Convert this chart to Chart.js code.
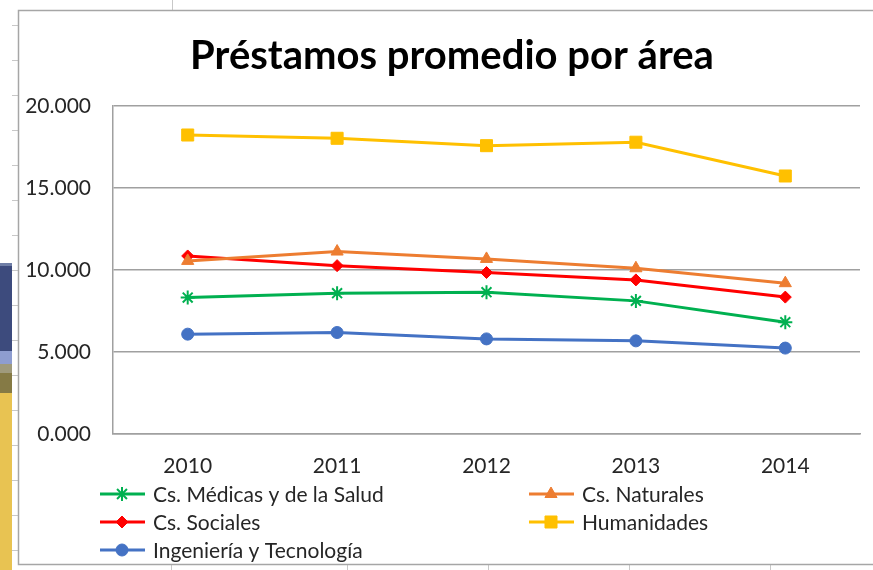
<!DOCTYPE html>
<html>
<head>
<meta charset="utf-8">
<script src="https://cdn.jsdelivr.net/npm/chart.js@4.4.1/dist/chart.umd.min.js"></script>
<style>
  html, body { margin: 0; padding: 0; background: #fff; }
  #wrap { width: 873px; height: 570px; }
</style>
</head>
<body>
<div id="wrap"><canvas id="chart" width="873" height="570"></canvas></div>
<script>
// values
const years = ['2010', '2011', '2012', '2013', '2014'];
const medicas = [8.31, 8.58, 8.64, 8.11, 6.81];
const naturales = [10.55, 11.12, 10.67, 10.10, 9.19];
const sociales = [10.85, 10.26, 9.84, 9.39, 8.34];
const humanidades = [18.23, 18.03, 17.58, 17.79, 15.73];
const ingenieria = [6.08, 6.18, 5.79, 5.67, 5.23];
const yMin = 0, yMax = 20, yStep = 5;
const titulo = 'Préstamos promedio por área';

const FONT = 'Lato, "Open Sans", sans-serif';

function serie(label, data, color, style, radius) {
  return {
    label: label,
    data: data,
    borderColor: color,
    backgroundColor: color,
    pointBackgroundColor: style === 'star' ? 'transparent' : color,
    pointBorderColor: color,
    pointBorderWidth: style === 'star' ? 2 : 1,
    pointStyle: style,
    pointRadius: radius,
    borderWidth: 3,
    tension: 0,
    fill: false
  };
}

// excel-ish surroundings: frame, cell ticks, slide strip on the left
const sheetBg = {
  id: 'sheetBg',
  beforeDraw(chart) {
    const c = chart.ctx;
    c.save();
    c.fillStyle = '#fff';
    c.fillRect(0, 0, chart.width, chart.height);
    const strip = [
      [263, 266, '#6f7ea6'], [266, 351, '#3d4b7d'], [351, 364, '#8e9dd0'],
      [364, 373, '#9f9a7c'], [373, 393, '#857a45'], [393, 570, '#e8c352']
    ];
    strip.forEach(s => { c.fillStyle = s[2]; c.fillRect(0, s[0], 12, s[1] - s[0]); });
    c.strokeStyle = '#c8c8c8';
    c.lineWidth = 1;
    for (let y = 25; y < 570; y += 35) {
      c.beginPath(); c.moveTo(12, y + 0.5); c.lineTo(18, y + 0.5); c.stroke();
    }
    [172].forEach(x => { c.beginPath(); c.moveTo(x + 0.5, 0); c.lineTo(x + 0.5, 10); c.stroke(); });
    [171, 347, 488, 629, 770].forEach(x => { c.beginPath(); c.moveTo(x + 0.5, 565); c.lineTo(x + 0.5, 570); c.stroke(); });
    c.strokeStyle = '#a6a6a6';
    c.lineWidth = 1.5;
    c.beginPath();
    c.moveTo(873, 10.5); c.lineTo(18.5, 10.5); c.lineTo(18.5, 564.5); c.lineTo(873, 564.5);
    c.stroke();
    c.restore();
  }
};

// title and two-column legend laid out like the excel one
const excelTexts = {
  id: 'excelTexts',
  afterDraw(chart) {
    const c = chart.ctx;
    c.save();
    c.fillStyle = '#000';
    c.font = 'bold 40px ' + FONT;
    c.textAlign = 'center';
    c.textBaseline = 'middle';
    c.fillText(titulo, 452, 56);

    const cols = [100, 529];
    const rows = [494, 522, 550];
    c.font = '21px ' + FONT;
    c.textAlign = 'left';
    chart.data.datasets.forEach((ds, i) => {
      const x = cols[i % 2], y = rows[Math.floor(i / 2)];
      c.strokeStyle = ds.borderColor;
      c.lineWidth = 3;
      c.beginPath(); c.moveTo(x, y); c.lineTo(x + 45, y); c.stroke();
      c.lineWidth = ds.pointBorderWidth;
      c.fillStyle = ds.pointBackgroundColor;
      Chart.helpers.drawPoint(c, { pointStyle: ds.pointStyle, radius: ds.pointRadius, borderWidth: ds.pointBorderWidth, rotation: 0 }, x + 22, y);
      c.fillStyle = '#262626';
      c.fillText(ds.label, x + 53, y + 1);
    });
    c.restore();
  }
};

new Chart(document.getElementById('chart'), {
  type: 'line',
  data: {
    labels: years,
    datasets: [
      serie('Cs. Médicas y de la Salud', medicas, '#00b050', 'star', 7),
      serie('Cs. Naturales', naturales, '#ed7d31', 'triangle', 7),
      serie('Cs. Sociales', sociales, '#ff0000', 'rectRot', 6),
      serie('Humanidades', humanidades, '#ffc000', 'rect', 8.5),
      serie('Ingeniería y Tecnología', ingenieria, '#4472c4', 'circle', 6)
    ]
  },
  options: {
    responsive: false,
    animation: false,
    layout: { padding: { left: 18, right: 13, top: 106, bottom: 71 } },
    plugins: {
      legend: { display: false },
      tooltip: { enabled: false },
      title: { display: false }
    },
    scales: {
      x: {
        offset: true,
        grid: { display: false, drawTicks: false },
        border: { display: true, color: '#a0a0a0', width: 1.5 },
        ticks: { color: '#262626', font: { family: FONT, size: 21 }, padding: 20, maxRotation: 0 }
      },
      y: {
        min: yMin,
        max: yMax,
        afterFit(scale) { scale.width = 95; },
        grid: { color: '#a0a0a0', lineWidth: 1.5, drawTicks: false },
        border: { display: true, color: '#a0a0a0', width: 1.5 },
        ticks: {
          stepSize: yStep,
          color: '#262626',
          font: { family: FONT, size: 21 },
          padding: 22,
          callback: v => v.toFixed(3)
        }
      }
    }
  },
  plugins: [sheetBg, excelTexts]
});
</script>
</body>
</html>
